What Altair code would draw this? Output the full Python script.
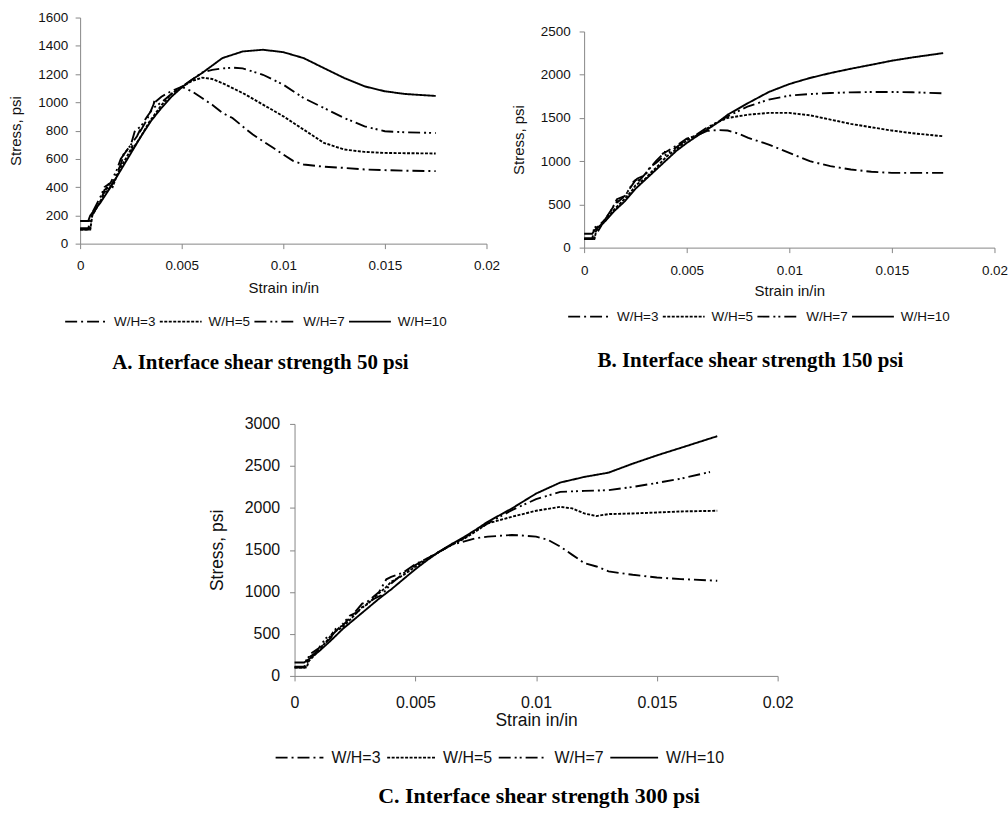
import altair as alt
import pandas as pd

SERIES = ["W/H=3", "W/H=5", "W/H=7", "W/H=10"]
DASHES = [[12, 4, 2, 4], [3, 1.5], [12, 4, 2, 3, 2, 4], [1, 0]]
X_TICKS = [0, 0.005, 0.01, 0.015, 0.02]

# ---------------- Panel A: interface shear strength 50 psi ----------------
a3_x = [0, 0.0004, 0.0005, 0.0008, 0.001, 0.0012, 0.0014, 0.0013, 0.0016, 0.002, 0.0022, 0.0021, 0.0025, 0.0028,
        0.003, 0.0029, 0.0033, 0.0036, 0.0037, 0.0036, 0.004, 0.0045, 0.005, 0.0055, 0.006, 0.0065, 0.007, 0.0075,
        0.008, 0.0085, 0.009, 0.0095, 0.01, 0.0105, 0.011, 0.012, 0.013, 0.014, 0.015, 0.016, 0.0175]
a3_y = [100, 100, 180, 250, 300, 380, 400, 360, 430, 560, 650, 620, 700, 760,
        820, 780, 880, 980, 1020, 990, 1040, 1080, 1110, 1078, 1030, 983, 925, 889,
        830, 772, 725, 678, 631, 584, 560, 544, 536, 525, 520, 516, 513]
a5_x = [0, 0.0005, 0.0006, 0.001, 0.0014, 0.0016, 0.0018, 0.002, 0.0024, 0.0026, 0.0025, 0.003, 0.0034, 0.0036,
        0.004, 0.0045, 0.005, 0.0055, 0.006, 0.0065, 0.007, 0.008, 0.009, 0.01, 0.011, 0.012, 0.013, 0.014,
        0.015, 0.016, 0.0175]
a5_y = [100, 100, 200, 300, 420, 400, 480, 540, 640, 700, 650, 760, 860, 900,
        980, 1060, 1110, 1150, 1175, 1165, 1136, 1066, 984, 901, 807, 713, 666, 649,
        642, 640, 638]
a7_x = [0, 0.0005, 0.0006, 0.001, 0.0012, 0.0015, 0.0018, 0.002, 0.0022, 0.0025, 0.0027, 0.003, 0.0033, 0.0036,
        0.004, 0.0045, 0.005, 0.0055, 0.006, 0.0065, 0.007, 0.0075, 0.008, 0.009, 0.01, 0.011, 0.012, 0.013,
        0.014, 0.015, 0.016, 0.0175]
a7_y = [110, 110, 220, 330, 400, 430, 520, 600, 640, 700, 800, 830, 900, 960,
        1000, 1060, 1110, 1160, 1210, 1230, 1240, 1245, 1240, 1195, 1125, 1030, 960, 889,
        830, 795, 788, 783]
a10_x = [0, 0.0004, 0.0005, 0.001, 0.0015, 0.002, 0.0025, 0.003, 0.0035, 0.004, 0.0045, 0.005, 0.0055, 0.006,
         0.007, 0.008, 0.009, 0.01, 0.011, 0.012, 0.013, 0.014, 0.015, 0.016, 0.0175]
a10_y = [160, 160, 200, 290, 400, 520, 640, 760, 870, 960, 1040, 1105, 1160, 1207,
         1313, 1360, 1372, 1355, 1313, 1242, 1172, 1113, 1078, 1059, 1045]

# ---------------- Panel B: interface shear strength 150 psi ----------------
b3_x = [0, 0.0004, 0.0005, 0.0007, 0.001, 0.0015, 0.0017, 0.0016, 0.002, 0.0025, 0.0027, 0.0026, 0.003, 0.0035,
        0.004, 0.0038, 0.0045, 0.005, 0.0055, 0.006, 0.0065, 0.007, 0.0075, 0.008, 0.009, 0.01, 0.011, 0.012,
        0.013, 0.014, 0.015, 0.016, 0.0175]
b3_y = [100, 100, 250, 200, 320, 500, 560, 520, 600, 780, 800, 750, 860, 1000,
        1120, 1080, 1180, 1260, 1300, 1350, 1360, 1354, 1320, 1269, 1192, 1096, 1000, 942,
        904, 877, 865, 865, 865]
b5_x = [0, 0.0005, 0.0006, 0.001, 0.0015, 0.002, 0.0023, 0.0025, 0.003, 0.0033, 0.0035, 0.004, 0.0045, 0.005,
        0.0055, 0.006, 0.0065, 0.007, 0.008, 0.009, 0.01, 0.011, 0.012, 0.013, 0.014, 0.015, 0.016, 0.0175]
b5_y = [100, 100, 200, 300, 450, 570, 650, 720, 800, 880, 920, 1050, 1140, 1240,
        1300, 1380, 1450, 1500, 1538, 1558, 1558, 1531, 1481, 1431, 1392, 1354, 1323, 1288]
b7_x = [0, 0.0005, 0.0006, 0.001, 0.0013, 0.0016, 0.002, 0.0024, 0.0026, 0.003, 0.0032, 0.0035, 0.004, 0.0045,
        0.005, 0.0055, 0.006, 0.0065, 0.007, 0.008, 0.009, 0.01, 0.011, 0.012, 0.013, 0.014, 0.015, 0.016,
        0.0175]
b7_y = [110, 110, 230, 320, 420, 560, 600, 760, 800, 840, 930, 980, 1080, 1160,
        1250, 1310, 1390, 1450, 1519, 1635, 1712, 1758, 1777, 1788, 1796, 1800, 1800, 1797,
        1785]
b10_x = [0, 0.0004, 0.0005, 0.001, 0.0015, 0.002, 0.0025, 0.003, 0.0035, 0.004, 0.0045, 0.005, 0.0055, 0.006,
         0.0065, 0.007, 0.008, 0.009, 0.01, 0.011, 0.012, 0.013, 0.014, 0.015, 0.016, 0.0175]
b10_y = [160, 160, 200, 300, 430, 540, 680, 790, 900, 1010, 1120, 1210, 1290, 1365,
         1445, 1538, 1673, 1800, 1892, 1962, 2019, 2069, 2115, 2162, 2200, 2250]

# ---------------- Panel C: interface shear strength 300 psi ----------------
c3_x = [0, 0.0004, 0.0005, 0.0008, 0.001, 0.0015, 0.0017, 0.002, 0.0025, 0.0028, 0.003, 0.0035, 0.0038, 0.004,
        0.0042, 0.0045, 0.005, 0.0055, 0.006, 0.0065, 0.007, 0.0075, 0.008, 0.009, 0.0095, 0.01, 0.0105, 0.011,
        0.0115, 0.012, 0.0125, 0.013, 0.014, 0.015, 0.016, 0.0175]
c3_y = [100, 100, 200, 260, 320, 450, 560, 600, 760, 860, 880, 1000, 1150, 1180,
        1200, 1230, 1330, 1400, 1480, 1560, 1599, 1640, 1658, 1678, 1670, 1658, 1619, 1540,
        1441, 1342, 1303, 1244, 1204, 1172, 1153, 1133]
c5_x = [0, 0.0005, 0.0006, 0.001, 0.0014, 0.0016, 0.002, 0.0024, 0.0028, 0.003, 0.0034, 0.0038, 0.004, 0.0045,
        0.005, 0.0055, 0.006, 0.0065, 0.007, 0.0075, 0.008, 0.009, 0.01, 0.011, 0.0115, 0.012, 0.0125, 0.013,
        0.014, 0.015, 0.016, 0.0175]
c5_y = [100, 100, 180, 300, 440, 520, 580, 700, 820, 850, 960, 1060, 1120, 1200,
        1300, 1390, 1480, 1560, 1630, 1720, 1816, 1895, 1966, 2013, 1994, 1934, 1903, 1927,
        1934, 1946, 1958, 1966]
c7_x = [0, 0.0005, 0.0006, 0.001, 0.0013, 0.0016, 0.002, 0.0023, 0.0026, 0.003, 0.0033, 0.0036, 0.004, 0.0045,
        0.005, 0.0055, 0.006, 0.0065, 0.007, 0.0075, 0.008, 0.009, 0.01, 0.011, 0.012, 0.013, 0.014, 0.015,
        0.016, 0.0172]
c7_y = [110, 110, 250, 330, 450, 500, 620, 720, 760, 860, 920, 960, 1100, 1220,
        1320, 1400, 1480, 1560, 1640, 1730, 1816, 1974, 2104, 2191, 2203, 2211, 2250, 2297,
        2349, 2428]
c10_x = [0, 0.0004, 0.0005, 0.001, 0.0015, 0.002, 0.0025, 0.003, 0.0035, 0.004, 0.0045, 0.005, 0.0055, 0.006,
         0.0065, 0.007, 0.0075, 0.008, 0.009, 0.01, 0.011, 0.012, 0.013, 0.014, 0.015, 0.016, 0.0175]
c10_y = [160, 160, 180, 290, 420, 560, 680, 800, 920, 1030, 1150, 1270, 1380, 1480,
         1570, 1650, 1740, 1836, 1994, 2171, 2302, 2369, 2420, 2527, 2625, 2716, 2854]

TITLE_A = "A. Interface shear strength 50 psi"
TITLE_B = "B. Interface shear strength 150 psi"
TITLE_C = "C. Interface shear strength 300 psi"

SANS = "Liberation Sans"
SERIF = "Liberation Serif"
AXIS_GREY = "#868686"
TEXT = "#111111"


def make_frame(pairs):
    rows = []
    for name, xs, ys in pairs:
        for i, (x, y) in enumerate(zip(xs, ys)):
            rows.append({"series": name, "strain": x, "stress": y, "i": i})
    return pd.DataFrame(rows)


def panel(pairs, ymax, ystep, w, h, title, lab_fs, tit_fs, leg_fs, sym_w, leg_off, leg_cp,
          ylab_pad, ytit_pad, xlab_pad, xtit_pad, leg_x, leg_y, t_fs, t_off, t_dx, yrange=None):
    df = make_frame(pairs)
    yscale = alt.Scale(domain=[0, ymax], nice=False)
    if yrange is not None:
        yscale = alt.Scale(domain=[0, ymax], nice=False, range=yrange)
    common = dict(grid=False, domainColor=AXIS_GREY, tickColor=AXIS_GREY, tickSize=5, labelFlush=False,
                  labelFont=SANS, labelFontSize=lab_fs, labelColor=TEXT,
                  titleFont=SANS, titleFontSize=tit_fs, titleColor=TEXT, titleFontWeight="normal")
    return alt.Chart(df).mark_line(color="black", strokeWidth=1.9).encode(
        x=alt.X("strain:Q",
                scale=alt.Scale(domain=[0, 0.02], nice=False, zero=True),
                axis=alt.Axis(values=X_TICKS, format="~g", title="Strain in/in",
                              labelPadding=xlab_pad, titlePadding=xtit_pad, **common)),
        y=alt.Y("stress:Q", scale=yscale,
                axis=alt.Axis(values=list(range(0, ymax + 1, ystep)), format="d", title="Stress, psi",
                              labelPadding=ylab_pad, titlePadding=ytit_pad, **common)),
        strokeDash=alt.StrokeDash("series:N",
                                  scale=alt.Scale(domain=SERIES, range=DASHES),
                                  sort=SERIES,
                                  legend=alt.Legend(title=None, orient="none", direction="horizontal",
                                                    legendX=leg_x, legendY=leg_y,
                                                    columns=4, symbolType="stroke", symbolSize=sym_w * sym_w,
                                                    symbolStrokeWidth=1.7, symbolStrokeColor="black",
                                                    labelFont=SANS, labelFontSize=leg_fs, labelColor=TEXT,
                                                    labelOffset=leg_off, columnPadding=leg_cp, padding=0)),
        order=alt.Order("i:Q"),
    ).properties(
        width=w, height=h,
        title=alt.TitleParams(title, orient="bottom", font=SERIF, fontSize=t_fs, fontWeight="bold",
                              color="black", offset=t_off, frame="group", anchor="middle", dx=t_dx),
    )


chart_a = panel([("W/H=3", a3_x, a3_y), ("W/H=5", a5_x, a5_y), ("W/H=7", a7_x, a7_y), ("W/H=10", a10_x, a10_y)],
                1600, 200, 408, 227, TITLE_A, lab_fs=13.5, tit_fs=15, leg_fs=13.5, sym_w=42, leg_off=6, leg_cp=0,
                ylab_pad=7.5, ytit_pad=14, xlab_pad=9.5, xtit_pad=9, leg_x=-16, leg_y=283,
                t_fs=21, t_off=24, t_dx=-23)
chart_b = panel([("W/H=3", b3_x, b3_y), ("W/H=5", b5_x, b5_y), ("W/H=7", b7_x, b7_y), ("W/H=10", b10_x, b10_y)],
                2500, 500, 412, 231, TITLE_B, lab_fs=13.5, tit_fs=15, leg_fs=13.5, sym_w=42, leg_off=6, leg_cp=0,
                ylab_pad=9, ytit_pad=14, xlab_pad=11, xtit_pad=7, leg_x=-17, leg_y=278,
                t_fs=21, t_off=27, t_dx=-39, yrange=[231, 14])
chart_c = panel([("W/H=3", c3_x, c3_y), ("W/H=5", c5_x, c5_y), ("W/H=7", c7_x, c7_y), ("W/H=10", c10_x, c10_y)],
                3000, 500, 485, 253, TITLE_C, lab_fs=16, tit_fs=17.5, leg_fs=16, sym_w=48, leg_off=7, leg_cp=2,
                ylab_pad=10, ytit_pad=18, xlab_pad=14, xtit_pad=1, leg_x=-20, leg_y=310,
                t_fs=22, t_off=21, t_dx=3)

top = alt.hconcat(chart_a, chart_b, spacing=10).resolve_scale(y="independent", strokeDash="independent")
chart = alt.vconcat(top, chart_c, spacing=43, center=True).resolve_scale(
    y="independent", x="independent", strokeDash="independent"
).properties(
    padding={"left": 8, "top": 9, "right": 0, "bottom": 0}, background="white"
).configure_view(stroke=None)

chart.save("out.html", embed_options={"renderer": "svg", "actions": False})
